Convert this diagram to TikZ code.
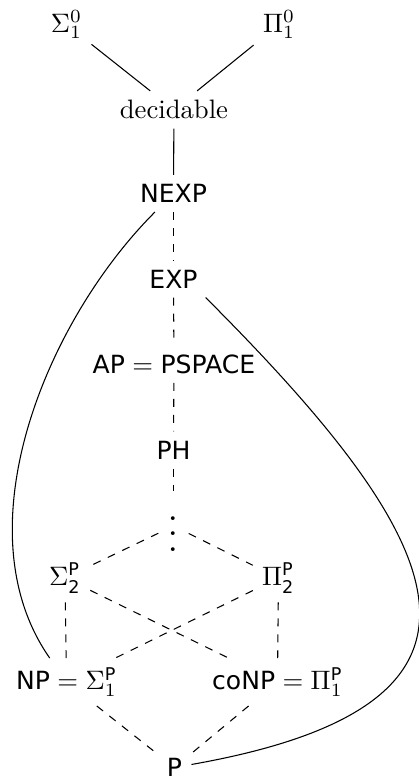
\documentclass[tikz,border=0pt]{standalone}
\usepackage{amsmath,amssymb}
\usepackage{fontspec}
\setsansfont{DejaVu Sans}[Scale=0.94]
\usepackage{tikz}
\usetikzlibrary{positioning}

\newcommand{\cls}[1]{\textsf{#1}}
\newcommand{\tallvdots}{\vbox{\baselineskip=5.7pt\lineskiplimit=0pt
    \kern6pt\hbox{\LARGE.}\hbox{\LARGE.}\hbox{\LARGE.}}}

\begin{document}
\begin{tikzpicture}[
    strict/.style={draw},
    weak/.style={draw, dashed},
]
\useasboundingbox (0,0) rectangle (5.52,-10.264);

% arithmetical hierarchy
\node (sig0) at (0.876,-0.323) {$\Sigma^0_1$};
\node (pi0)  at (3.676,-0.323) {$\Pi^0_1$};
\node (dec)  at (2.292,-1.445) {decidable};

% main column
\node (nexp) at (2.286,-2.549) {\cls{NEXP}};
\node (exp)  at (2.286,-3.676) {\cls{EXP}};
\node (apsp) at (2.292,-4.796) {$\cls{AP} = \cls{PSPACE}$};
\node (ph)   at (2.286,-5.929) {\cls{PH}};
\node (dots) at (2.286,-6.930) {\tallvdots};

% polynomial hierarchy
\node (sig2) at (0.856,-7.615) {$\Sigma^{\cls{P}}_{\cls{2}}$};
\node (pi2)  at (3.669,-7.615) {$\Pi^{\cls{P}}_{\cls{2}}$};
\node (np)   at (0.876,-8.986) {$\cls{NP} = \Sigma^{\cls{P}}_1$};
\node (conp) at (3.656,-8.986) {$\cls{coNP} = \Pi^{\cls{P}}_1$};
\node (P)    at (2.299,-10.112) {\cls{P}};

\draw[strict] (sig0) -- (dec);
\draw[strict] (pi0) -- (dec);
\draw[strict] (dec) -- (nexp);

\foreach \a/\b in {nexp/exp, exp/apsp, apsp/ph, ph/dots,
                   dots/sig2, dots/pi2, sig2/np, sig2/conp,
                   pi2/np, pi2/conp, np/P, conp/P}
    \draw[weak] (\a) -- (\b);

% long inclusions
\draw[strict] (nexp) to[out=225, in=125, looseness=0.87] (np);
\draw[strict] (exp.-30) to[out=-45, in=10, looseness=1.9] (P.10);
\end{tikzpicture}
\end{document}
